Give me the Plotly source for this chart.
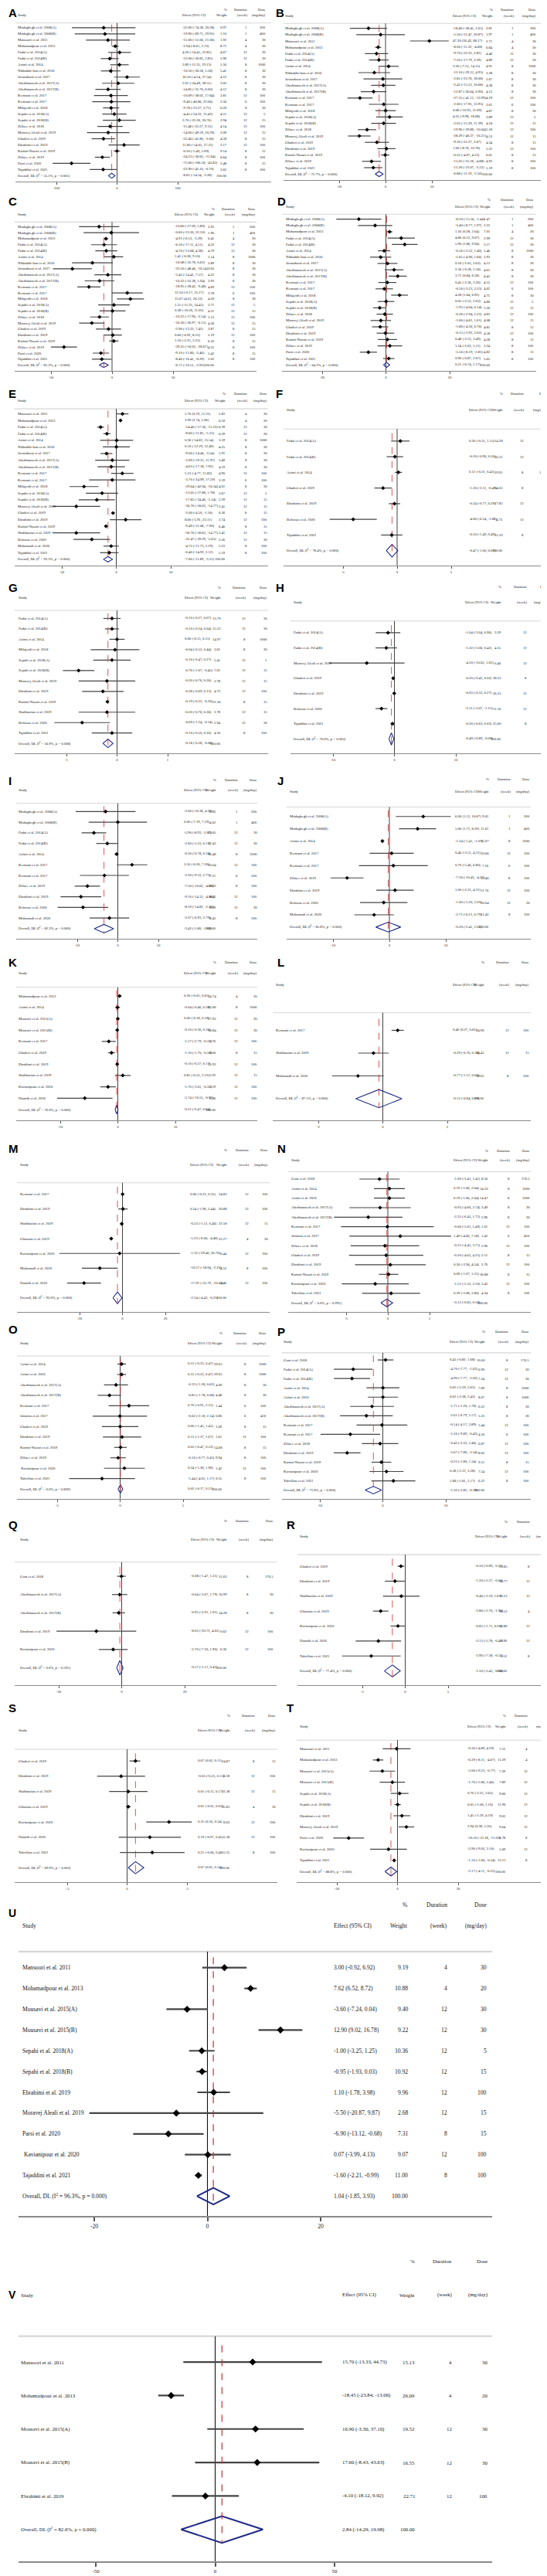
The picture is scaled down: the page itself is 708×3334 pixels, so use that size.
import plotly.graph_objects as go

W, H = 708, 3334
SERIF = "Liberation Serif, Times New Roman, serif"
SANS = "Liberation Sans, Arial, sans-serif"

# ============================ DATA ============================
A_study = ["Modaghegh et al. 2008(A)", "Modaghegh et al. 2008(B)", "Mansoori et al. 2011", "Mohamadpour et al. 2013",
           "Fadai et al. 2014(A)", "Fadai et al. 2014(B)", "Azimi et al. 2014", "Nikbakht-Jam et al. 2016",
           "Javandoost et al. 2017", "Abedimanesh et al. 2017(A)", "Abedimanesh et al. 2017(B)", "Kermani et al. 2017",
           "Kermani et al. 2017", "Milajerdi et al. 2018", "Sepahi et al. 2018(A)", "Sepahi et al. 2018(B)",
           "Ziliaee et al. 2018", "Moravej Aleali et al. 2019", "Ghaderi et al. 2019", "Ebrahimi et al. 2019",
           "Karimi-Nazari et al. 2019", "Ziliaee et al. 2019", "Parsi et al. 2020", "Tajaddini et al. 2021"]
A_eff = [-22.00, -19.90, -15.00, -2.94, 4.20, -12.00, 3.89, -10.50, 16.50, 2.01, -14.85, -10.09, -9.40, -9.78, -4.45, 3.70, -11.48, -14.60, -22.40, 11.60, -0.20, -24.23, -75.00, -22.90]
A_lo = [-74.38, -69.71, -51.06, -8.61, -14.45, -26.85, -11.35, -26.58, -4.54, -24.49, -35.70, -38.02, -40.86, -23.27, -24.32, -23.36, -32.27, -49.59, -41.80, -14.05, -5.49, -36.62, -106.18, -45.10]
A_hi = [30.38, 29.91, 21.06, 2.73, 22.85, 2.85, 19.13, 5.58, 37.54, 28.51, 6.00, 17.84, 22.06, 3.71, 15.42, 30.76, 9.31, 20.39, -3.00, 37.25, 5.09, -11.84, -43.82, -0.70]
A_wt = [0.97, 1.10, 1.92, 8.71, 4.67, 5.96, 5.56, 5.41, 4.12, 3.03, 4.12, 2.81, 2.56, 6.20, 4.51, 2.94, 4.14, 2.09, 4.58, 3.17, 9.14, 6.64, 2.48, 3.62]
A_dur = [1, 1, 4, 4, 12, 12, 8, 8, 8, 8, 8, 12, 6, 8, 12, 12, 12, 12, 8, 12, 8, 8, 8, 8]
A_dose = [200, 400, 30, 20, 30, 30, 1000, 30, 30, 30, 30, 100, 100, 30, 5, 15, 100, 15, 15, 100, 15, 100, 15, 100]
A_overall = [-8.81, -14.34, -3.28]
A_het = ["55.1%", "0.001"]
A_ticks = [-100, 0, 100]

B_study = ["Modaghegh et al. 2008(A)", "Modaghegh et al. 2008(B)", "Mansoori et al. 2011", "Mohamadpour et al. 2013",
           "Fadai et al. 2014(A)", "Fadai et al. 2014(B)", "Azimi et al. 2014", "Nikbakht-Jam et al. 2016",
           "Javandoost et al. 2017", "Abedimanesh et al. 2017(A)", "Abedimanesh et al. 2017(B)", "Kermani et al. 2017",
           "Kermani et al. 2017", "Milajerdi et al. 2018", "Sepahi et al. 2018(A)", "Sepahi et al. 2018(B)",
           "Ziliaee et al. 2018", "Moravej Aleali et al. 2019", "Ghaderi et al. 2019", "Ebrahimi et al. 2019",
           "Karimi Nazari et al. 2019", "Ziliaee et al. 2019", "Tajaddini et al. 2021"]
B_eff = [-18.40, -5.30, 47.30, -8.00, -9.70, -7.20, 3.30, -12.10, -2.85, -2.42, -12.87, -27.55, -2.00, 0.08, 4.35, -2.05, -19.96, -28.29, -9.30, 1.00, -0.32, -15.03, -13.20]
B_lo = [-38.45, -31.47, 26.43, -11.32, -22.22, -17.79, -7.55, -29.15, -23.76, -15.52, -26.64, -41.11, -17.95, -10.93, -9.98, -15.39, -29.88, -40.37, -22.27, -8.76, -4.87, -25.18, -23.07]
B_hi = [1.65, 20.87, 68.17, -4.68, 2.82, 3.39, 14.15, 4.95, 18.06, 10.68, 0.90, -13.99, 13.95, 11.09, 18.68, 11.29, -10.04, -16.21, 3.67, 10.76, 4.23, -4.88, -3.33]
B_wt = [2.81, 1.97, 2.71, 6.84, 4.46, 4.89, 4.91, 3.38, 2.67, 4.38, 4.13, 4.19, 3.61, 4.87, 3.89, 4.24, 5.18, 4.53, 4.34, 5.22, 6.61, 4.93, 5.19]
B_dur = [1, 1, 4, 4, 12, 12, 8, 8, 8, 8, 8, 12, 6, 8, 12, 12, 12, 12, 8, 12, 8, 8, 8]
B_dose = [200, 400, 30, 20, 30, 30, 1000, 30, 30, 30, 30, 100, 100, 30, 5, 15, 100, 15, 15, 100, 15, 100, 100]
B_overall = [-6.88, -11.19, -2.56]
B_het = ["72.7%", "0.000"]
B_ticks = [-50, 0, 50]

C_study = ["Modaghegh et al. 2008(A)", "Modaghegh et al. 2008(B)", "Mohamadpour et al. 2013", "Fadai et al. 2014(A)",
           "Fadai et al. 2014(B)", "Azimi et al. 2014", "Nikbakht-Jam et al. 2016", "Javandoost et al. 2017",
           "Abedimanesh et al. 2017(A)", "Abedimanesh et al. 2017(B)", "Kermani et al. 2017", "Kermani et al. 2017",
           "Milajerdi et al. 2018", "Sepahi et al. 2018(A)", "Sepahi et al. 2018(B)", "Ziliaee et al. 2018",
           "Moravej Aleali et al. 2019", "Ghaderi et al. 2019", "Ebrahimi et al. 2019", "Karimi-Nazari et al. 2019",
           "Ziliaee et al. 2019", "Parsi et al. 2020", "Tajaddini et al. 2021"]
C_eff = [-10.60, -0.60, -4.91, -6.50, -4.70, 1.41, -16.08, -32.50, -3.42, -10.22, -18.95, 12.50, 15.07, 1.55, 0.38, -10.22, -16.56, -2.90, 0.60, 1.50, -39.35, -9.10, -8.40]
C_lo = [-27.09, -23.30, -6.53, -17.11, -13.68, -6.28, -32.78, -48.46, -14.41, -22.38, -28.42, -0.17, 4.01, -11.35, -10.26, -17.90, -26.97, -13.22, -6.92, -2.25, -50.03, -15.80, -16.41]
C_hi = [5.89, 22.10, -3.29, 4.11, 4.28, 9.10, 0.62, -16.54, 7.57, 1.94, -9.48, 25.17, 26.13, 14.45, 11.02, -2.54, -6.15, 7.42, 8.12, 5.25, -28.67, -2.40, -0.39]
C_wt = [2.92, 1.96, 6.45, 4.32, 4.79, 5.14, 2.89, 3.03, 4.22, 3.93, 4.69, 3.78, 4.20, 3.71, 4.31, 5.13, 4.36, 3.87, 5.19, 6.16, 4.35, 5.42, 5.03]
C_dur = [1, 1, 4, 12, 12, 8, 8, 8, 8, 8, 12, 6, 8, 12, 12, 12, 12, 8, 12, 8, 8, 8, 8]
C_dose = [200, 400, 20, 30, 30, 1000, 30, 30, 30, 30, 100, 100, 30, 5, 15, 100, 15, 15, 100, 15, 100, 15, 100]
C_overall = [-6.71, -10.51, -2.92]
C_het = ["81.3%", "0.000"]
C_ticks = [-50, 0, 50]

D_study = list(C_study)
D_eff = [-8.50, -3.40, 1.16, 4.80, 5.90, -0.56, -1.65, 0.50, 2.56, 3.71, 0.45, -0.50, 4.28, 0.05, -1.95, -0.36, -1.60, -1.80, -0.15, 0.48, 1.24, -5.50, 0.90]
D_lo = [-15.56, -8.77, 0.28, 0.53, 1.86, -2.52, -4.96, -2.63, -0.38, 0.84, -2.36, -3.23, 1.64, -2.53, -4.04, -2.94, -4.81, -4.36, -2.92, -2.53, -2.63, -8.19, -0.87]
D_hi = [-1.44, 1.97, 2.04, 9.07, 9.94, 1.40, 1.66, 3.63, 5.50, 6.58, 3.26, 2.23, 6.92, 2.63, 0.14, 2.22, 1.61, 0.76, 2.62, 3.49, 5.11, -2.81, 2.67]
D_wt = [1.47, 2.22, 7.01, 2.99, 3.17, 5.46, 3.93, 4.13, 4.61, 4.45, 4.55, 4.62, 4.75, 4.86, 5.30, 4.83, 4.08, 4.85, 4.58, 4.28, 3.34, 4.82, 5.65]
D_dur = list(C_dur)
D_dose = list(C_dose)
D_overall = [0.21, -0.74, 1.17]
D_het = ["64.2%", "0.000"]
D_ticks = [-20, 0, 20]

E_study = ["Mansoori et al. 2011", "Mohamadpour et al. 2013", "Fadai et al. 2014(A)", "Fadai et al. 2014(B)",
           "Azimi et al. 2014", "Nikbakht-Jam et al. 2016", "Javandoost et al. 2017", "Abedimanesh et al. 2017(A)",
           "Abedimanesh et al. 2017(B)", "Kermani et al. 2017", "Kermani et al. 2017", "Milajerdi et al. 2018",
           "Sepahi et al. 2018(A)", "Sepahi et al. 2018(B)", "Moravej Aleali et al. 2019", "Ghaderi et al. 2019",
           "Ebrahimi et al. 2019", "Karimi-Nazari et al. 2019", "Shahbazian et al. 2019", "Behrouz et al. 2020",
           "Mohamadi et al. 2020", "Tajaddini et al. 2021"]
E_eff = [5.70, 3.90, -14.40, -8.60, 0.36, 0.10, -9.00, -3.69, -4.63, 5.53, -3.70, -29.64, -13.05, -17.85, -36.70, -3.00, 8.60, -9.49, -36.70, -22.47, -4.72, -6.40]
E_lo = [0.19, 2.74, -17.58, -11.85, -14.82, -12.29, -14.46, -19.35, -17.18, -4.77, -24.99, -42.94, -27.88, -34.46, -58.63, -4.50, -5.91, -11.08, -58.63, -39.29, -11.73, -14.92]
E_hi = [11.21, 5.06, -11.22, -5.35, 15.54, 12.49, -3.54, 11.97, 7.92, 15.83, 17.59, -16.34, 1.78, -1.24, -14.77, -1.50, 23.11, -7.90, -14.77, -5.65, 2.29, 2.12]
E_wt = [5.83, 6.59, 6.39, 6.39, 3.59, 4.25, 5.91, 3.49, 4.19, 4.90, 2.59, 4.01, 3.67, 3.39, 2.41, 6.26, 3.74, 6.46, 2.41, 3.26, 5.23, 5.19]
E_dur = [4, 4, 12, 12, 8, 8, 8, 8, 8, 12, 6, 8, 12, 12, 12, 8, 12, 8, 12, 12, 8, 8]
E_dose = [30, 20, 30, 30, 1000, 30, 30, 30, 30, 100, 100, 30, 5, 15, 15, 15, 100, 15, 15, 30, 100, 100]
E_overall = [-7.60, -11.89, -3.31]
E_het = ["93.3%", "0.000"]
E_ticks = [-50, 0, 50]

F_study = ["Fadai et al. 2014(A)", "Fadai et al. 2014(B)", "Azimi et al. 2014", "Ghaderi et al. 2019",
           "Ebrahimi et al. 2019", "Behrouz et al. 2020", "Tajaddini et al. 2021"]
F_eff = [0.30, -0.20, 0.12, -1.30, -0.24, -4.06, -0.50]
F_lo = [-0.55, -0.96, -0.21, -2.11, -0.77, -6.24, -1.49]
F_hi = [1.15, 0.56, 0.45, -0.49, 0.29, -1.88, 0.49]
F_wt = [14.28, 16.31, 19.91, 14.63, 17.83, 4.73, 12.59]
F_dur = [12, 12, 8, 8, 12, 12, 8]
F_dose = [30, 30, 1000, 15, 100, 30, 100]
F_overall = [-0.47, -1.00, 0.07]
F_het = ["78.4%", "0.000"]
F_ticks = [-5, 0, 5]

G_study = ["Fadai et al. 2014(A)", "Fadai et al. 2014(B)", "Azimi et al. 2014", "Milajerdi et al. 2018",
           "Sepahi et al. 2018(A)", "Sepahi et al. 2018(B)", "Moravej Aleali et al. 2019", "Ebrahimi et al. 2019",
           "Karimi-Nazari et al. 2019", "Shahbazian et al. 2019", "Behrouz et al. 2020", "Tajaddini et al. 2021"]
G_eff = [-0.10, -0.10, 0.00, -0.04, -0.10, -0.76, -0.20, -0.28, -0.19, -0.20, -0.69, -0.10]
G_lo = [-0.27, -0.24, -0.15, -0.52, -0.47, -1.07, -0.76, -0.69, -0.22, -0.76, -1.24, -0.50]
G_hi = [0.07, 0.04, 0.15, 0.44, 0.27, -0.45, 0.36, 0.13, -0.16, 0.36, -0.14, 0.30]
G_wt = [13.79, 15.52, 14.97, 3.61, 5.41, 7.61, 2.78, 4.73, 21.36, 2.78, 2.94, 4.50]
G_dur = [12, 12, 8, 8, 12, 12, 12, 12, 8, 12, 12, 8]
G_dose = [30, 30, 1000, 30, 5, 15, 15, 100, 15, 15, 30, 100]
G_overall = [-0.18, -0.28, -0.08]
G_het = ["56.9%", "0.008"]
G_ticks = [-1, 0, 1]

H_study = ["Fadai et al. 2014(A)", "Fadai et al. 2014(B)", "Moravej Aleali et al. 2019", "Ghaderi et al. 2019",
           "Ebrahimi et al. 2019", "Behrouz et al. 2020", "Tajaddini et al. 2021"]
H_eff = [-1.04, -1.32, -4.50, -0.20, -0.03, -2.11, -0.30]
H_lo = [-3.04, -3.06, -10.65, -0.42, -0.33, -3.07, -0.63]
H_hi = [0.96, 0.42, 1.65, 0.02, 0.27, -1.15, 0.03]
H_wt = [3.59, 4.55, 0.40, 28.35, 26.35, 11.16, 25.60]
H_dur = [12, 12, 12, 8, 12, 12, 8]
H_dose = [30, 30, 15, 15, 100, 30, 100]
H_overall = [-0.49, -0.89, -0.09]
H_het = ["70.0%", "0.002"]
H_ticks = [-10, 0, 10]

I_study = ["Modaghegh et al. 2008(A)", "Modaghegh et al. 2008(B)", "Fadai et al. 2014(A)", "Fadai et al. 2014(B)",
           "Azimi et al. 2014", "Kermani et al. 2017", "Kermani et al. 2017", "Ziliaee et al. 2019",
           "Ebrahimi et al. 2019", "Behrouz et al. 2020", "Mohamadi et al. 2020"]
I_eff = [-3.00, 0.00, -5.90, -2.60, -0.30, 3.50, -3.30, -7.50, -9.10, -8.59, -2.07]
I_lo = [-10.38, -7.19, -8.93, -5.33, -0.78, -0.26, -9.33, -10.62, -14.12, -14.82, -6.93]
I_hi = [4.38, 7.19, -2.87, 0.13, 0.18, 7.26, 2.73, -4.38, -4.08, -2.36, 2.79]
I_wt = [3.93, 4.02, 11.05, 12.42, 16.48, 10.04, 7.21, 10.92, 8.46, 6.99, 8.43]
I_dur = [1, 1, 12, 12, 8, 12, 6, 8, 12, 12, 8]
I_dose = [200, 400, 30, 30, 1000, 100, 100, 100, 100, 30, 100]
I_overall = [-3.42, -5.80, -1.03]
I_het = ["82.3%", "0.000"]
I_ticks = [-10, 0, 10]

J_study = ["Modaghegh et al. 2008(A)", "Modaghegh et al. 2008(B)", "Azimi et al. 2014", "Kermani et al. 2017",
           "Kermani et al. 2017", "Ziliaee et al. 2019", "Ebrahimi et al. 2019", "Behrouz et al. 2020",
           "Mohamadi et al. 2020"]
J_eff = [6.00, 5.00, -1.24, 0.40, 0.70, -7.50, 1.00, -1.00, -2.71]
J_lo = [1.13, 1.71, -1.41, -3.51, -5.40, -10.43, -2.31, -5.20, -6.21]
J_hi = [10.87, 8.29, -1.07, 4.31, 6.80, -4.57, 4.31, 3.20, 0.79]
J_wt = [9.03, 11.61, 15.07, 10.66, 7.16, 12.46, 11.76, 10.04, 11.43]
J_dur = [1, 1, 8, 12, 6, 8, 12, 12, 8]
J_dose = [200, 400, 1000, 100, 100, 100, 100, 30, 100]
J_overall = [-0.20, -2.41, 2.01]
J_het = ["85.8%", "0.000"]
J_ticks = [-10, 0, 10]

K_study = ["Mohamadpour et al. 2013", "Azimi et al. 2014", "Mousavi et al. 2015(A)", "Mousavi et al. 2015(B)",
           "Kermani et al. 2017", "Ghaderi et al. 2019", "Ebrahimi et al. 2019", "Shahbazian et al. 2019",
           "Kavianipour et al. 2020", "Hamidi et al. 2020"]
K_eff = [0.30, -0.04, 0.00, -0.10, -1.57, -1.10, -0.10, 0.85, -1.70, -5.74]
K_lo = [-0.05, -0.46, -0.18, -0.36, -2.79, -1.70, -0.37, -0.52, -3.05, -10.55]
K_hi = [0.65, 0.38, 0.18, 0.16, -0.35, -0.50, 0.17, 2.22, -0.35, -0.93]
K_wt = [14.74, 15.06, 17.92, 16.84, 3.76, 9.00, 15.92, 2.93, 3.19, 0.56]
K_dur = [4, 8, 12, 12, 12, 8, 12, 12, 12, 12]
K_dose = [20, 1000, 30, 30, 100, 15, 100, 15, 100, 100]
K_overall = [-0.21, -0.47, 0.04]
K_het = ["76.0%", "0.000"]
K_ticks = [-10, 0, 10]

L_study = ["Kermani et al. 2017", "Shahbazian et al. 2019", "Mohamadi et al. 2020"]
L_eff = [0.46, -0.29, -0.77]
L_lo = [0.27, -0.76, -1.57]
L_hi = [0.65, 0.18, 0.03]
L_wt = [34.90, 34.45, 30.65]
L_dur = [12, 12, 8]
L_dose = [100, 15, 100]
L_overall = [-0.12, -0.84, 0.59]
L_het = ["87.1%", "0.000"]
L_ticks = [-2, 0, 2]

M_study = ["Kermani et al. 2017", "Ebrahimi et al. 2019", "Shahbazian et al. 2019", "Ghiasian et al. 2019",
           "Kavianipour et al. 2020", "Mohamadi et al. 2020", "Hamidi et al. 2020"]
M_eff = [0.06, 0.24, -0.33, -5.23, -1.32, -10.57, -17.91]
M_lo = [-0.23, -1.96, -1.12, -6.06, -29.40, -18.94, -25.79]
M_hi = [0.35, 2.44, 0.46, -4.40, 26.76, -2.20, -10.03]
M_wt = [24.83, 20.88, 22.58, 22.27, 0.44, 4.52, 4.46]
M_dur = [12, 12, 12, 4, 12, 8, 12]
M_dose = [100, 100, 15, 30, 100, 100, 100]
M_overall = [-2.34, -4.43, -0.25]
M_het = ["93.0%", "0.000"]
M_ticks = [-20, 0, 20]

N_study = ["Gout et al. 2018", "Azimi et al. 2014", "Azimi et al. 2016", "Abedimanesh et al. 2017(A)",
           "Abedimanesh et al. 2017(B)", "Kermani et al. 2017", "Jafarnia et al. 2017", "Ziliaee et al. 2018",
           "Ghaderi et al. 2019", "Ebrahimi et al. 2019", "Karimi-Nazari et al. 2019", "Kavianipour et al. 2020",
           "Tahvilian et al. 2021"]
N_eff = [-1.00, 0.19, 0.19, -0.93, -2.35, -0.06, 1.49, -0.35, -0.20, 0.30, 0.09, -1.51, 0.39]
N_lo = [-3.41, -1.66, -1.66, -4.60, -6.45, -5.61, -4.60, -4.45, -4.65, -3.94, -1.07, -5.52, -3.08]
N_hi = [1.41, 2.04, 2.04, 2.74, 1.75, 5.49, 7.58, 3.75, 4.25, 4.54, 1.25, 2.50, 3.86]
N_wt = [8.56, 14.50, 14.47, 3.49, 2.96, 1.61, 1.43, 2.96, 2.51, 2.76, 36.88, 3.43, 4.34]
N_dur = [8, 8, 8, 8, 8, 12, 6, 12, 8, 12, 8, 12, 8]
N_dose = [176.5, 1000, 1000, 30, 30, 100, 450, 100, 15, 100, 15, 100, 100]
N_overall = [-0.12, -0.83, 0.58]
N_het = ["0.0%", "0.995"]
N_ticks = [-5, 0, 5]

O_study = ["Azimi et al. 2014", "Azimi et al. 2016", "Abedimanesh et al. 2017(A)", "Abedimanesh et al. 2017(B)",
           "Kermani et al. 2017", "Jafarnia et al. 2017", "Ghaderi et al. 2019", "Ebrahimi et al. 2019",
           "Karimi-Nazari et al. 2019", "Ziliaee et al. 2019", " Kavianipour et al. 2020", "Tahvilian et al. 2021"]
O_eff = [0.12, 0.12, -0.33, -0.85, 0.70, -0.02, 0.00, 0.15, 0.03, -0.16, 0.34, -1.44]
O_lo = [-0.23, -0.23, -1.28, -1.78, -0.91, -2.18, -1.45, -1.37, -0.47, -0.77, -1.28, -4.05]
O_hi = [0.47, 0.47, 0.62, 0.08, 2.31, 2.14, 1.45, 1.67, 0.53, 0.45, 1.96, 1.17]
O_wt = [29.65, 29.65, 4.09, 4.48, 1.44, 0.80, 1.69, 1.61, 14.68, 9.94, 1.42, 0.55]
O_dur = [8, 8, 8, 8, 6, 6, 8, 12, 8, 8, 12, 8]
O_dose = [1000, 1000, 30, 30, 100, 450, 15, 100, 15, 100, 100, 100]
O_overall = [0.02, -0.17, 0.21]
O_het = ["0.0%", "0.809"]
O_ticks = [-5, 0, 5]

P_study = ["Gout et al. 2018", "Fadai et al. 2014(A)", "Fadai et al. 2014(B)", "Azimi et al. 2014",
           "Azimi et al. 2016", "Abedimanesh et al. 2017(A)", "Abedimanesh et al. 2017(B)", "Kermani et al. 2017",
           "Kermani et al. 2017", "Ziliaee et al. 2018", "Ebrahimi et al. 2019", "Karimi-Nazari et al. 2019",
           "Kavianipour et al. 2020", "Tahvilian et al. 2021"]
P_eff = [0.43, -4.70, -4.90, 0.02, 0.02, -1.71, -2.61, -0.14, -5.16, -0.43, -5.67, -0.23, 0.58, 1.68]
P_lo = [-0.82, -7.77, -7.77, -2.59, -2.38, -5.20, -6.79, -4.17, -9.89, -3.32, -7.80, -1.80, -2.12, -1.81]
P_hi = [1.68, -1.63, -2.03, 2.63, 2.42, 1.78, 1.57, 3.89, -0.43, 2.46, -3.54, 1.34, 3.28, 5.17]
P_wt = [10.00, 6.90, 7.24, 7.69, 8.07, 6.22, 5.23, 5.44, 4.50, 6.87, 8.03, 9.51, 7.54, 6.22]
P_dur = [8, 12, 12, 8, 8, 8, 8, 12, 6, 12, 12, 8, 12, 8]
P_dose = [176.5, 30, 30, 1000, 1000, 30, 30, 100, 100, 100, 100, 15, 100, 100]
P_overall = [-1.50, -2.82, -0.18]
P_het = ["71.6%", "0.000"]
P_ticks = [-10, 0, 10]

Q_study = ["Gout et al. 2018", "Abedimanesh et al. 2017(A)", "Abedimanesh et al. 2017(B)", "Ebrahimi et al. 2019",
           "Kavianipour et al. 2020"]
Q_eff = [-0.08, -0.64, -0.95, -8.05, -2.70]
Q_lo = [-1.47, -3.07, -2.91, -20.72, -7.30]
Q_hi = [1.31, 1.79, 1.01, 4.62, 1.90]
Q_wt = [51.63, 16.99, 24.28, 0.62, 6.36]
Q_dur = [8, 8, 8, 12, 12]
Q_dose = [176.5, 30, 30, 100, 100]
Q_overall = [-0.57, -1.57, 0.43]
Q_het = ["0.0%", "0.595"]
Q_ticks = [-20, 0, 20]

R_study = ["Ghaderi et al. 2019", "Ebrahimi et al. 2019", "Shahbazian et al. 2019", "Ghiasian et al. 2019",
           "Kavianipour et al. 2020", "Hamidi et al. 2020", "Tahvilian et al. 2021"]
R_eff = [-0.50, -1.20, -0.46, -2.86, -0.85, -3.13, -3.96]
R_lo = [-0.89, -2.37, -2.59, -3.76, -1.71, -5.78, -7.38]
R_hi = [-0.11, -0.03, 1.67, -1.96, 0.01, -0.48, -0.53]
R_wt = [21.85, 16.77, 10.52, 18.52, 18.86, 7.96, 5.52]
R_dur = [8, 12, 12, 4, 12, 12, 8]
R_dose = [15, 100, 15, 30, 100, 100, 100]
R_overall = [-1.50, -2.43, -0.58]
R_het = ["77.4%", "0.000"]
R_ticks = [-5, 0, 5]

S_study = ["Ghaderi et al. 2019", "Ebrahimi et al. 2019", "Shahbazian et al. 2019", "Ghiasian et al. 2019",
           "Kavianipour et al. 2020", "Hamidi et al. 2020", "Tahvilian et al. 2021"]
S_eff = [0.07, -0.05, 0.01, 0.01, 0.35, 0.19, 0.21]
S_lo = [0.02, -0.25, -0.15, -0.01, 0.16, -0.07, -0.06]
S_hi = [0.11, 0.15, 0.17, 0.03, 0.54, 0.45, 0.48]
S_wt = [24.87, 8.18, 11.38, 35.81, 8.63, 5.58, 5.55]
S_dur = [8, 12, 12, 4, 12, 12, 8]
S_dose = [15, 100, 15, 30, 100, 100, 100]
S_overall = [0.07, 0.01, 0.14]
S_het = ["69.9%", "0.003"]
S_ticks = [-0.5, 0, 0.5]
S_ticktext = ["-.5", "0", ".5"]

T_study = ["Mansoori et al. 2011", "Mohamadpour et al. 2013", "Mousavi et al. 2015(A)", "Mousavi et al. 2015(B)",
           "Sepahi et al. 2018(A)", "Sepahi et al. 2018(B)", "Ebrahimi et al. 2019", "Moravej Aleali et al. 2019",
           "Parsi et al. 2020", "Kavianipour et al. 2020", "Tajaddini et al. 2021"]
T_eff = [-0.30, -6.39, -5.00, -1.70, 0.70, 0.05, 1.45, 2.94, -16.10, -2.96, -1.10]
T_lo = [-4.89, -8.11, -9.23, -5.86, -2.25, -1.00, -1.29, 0.38, -21.18, -9.02, -1.66]
T_hi = [4.29, -4.67, -0.77, 2.46, 3.65, 1.10, 4.19, 5.50, -11.02, 3.10, -0.54]
T_wt = [7.52, 11.29, 7.39, 7.89, 9.66, 11.96, 9.03, 9.64, 6.78, 5.69, 13.15]
T_dur = [4, 4, 12, 12, 12, 12, 12, 12, 8, 12, 8]
T_dose = [30, 20, 30, 30, 5, 15, 100, 15, 15, 100, 100]
T_overall = [-2.17, -4.11, -0.23]
T_het = ["88.8%", "0.000"]
T_ticks = [-20, 0, 20]

U_study = ["Mansoori et al. 2011", "Mohamadpour et al. 2013", "Mousavi et al. 2015(A)", "Mousavi et al. 2015(B)",
           "Sepahi et al. 2018(A)", "Sepahi et al. 2018(B)", "Ebrahimi et al. 2019", "Moravej Aleali et al. 2019",
           "Parsi et al. 2020", " Kavianipour et al. 2020", "Tajaddini et al. 2021"]
U_eff = [3.00, 7.62, -3.60, 12.90, -1.00, -0.95, 1.10, -5.50, -6.90, 0.07, -1.60]
U_lo = [-0.92, 6.52, -7.24, 9.02, -3.25, -1.93, -1.78, -20.87, -13.12, -3.99, -2.21]
U_hi = [6.92, 8.72, 0.04, 16.78, 1.25, 0.03, 3.98, 9.87, -0.68, 4.13, -0.99]
U_wt = [9.19, 10.88, 9.40, 9.22, 10.36, 10.92, 9.96, 2.68, 7.31, 9.07, 11.00]
U_dur = [4, 4, 12, 12, 12, 12, 12, 12, 8, 12, 8]
U_dose = [30, 20, 30, 30, 5, 15, 100, 15, 15, 100, 100]
U_overall = [1.04, -1.85, 3.93]
U_het = ["96.3%", "0.000"]
U_ticks = [-20, 0, 20]

V_study = ["Mansoori et al. 2011", "Mohamadpour et al. 2013", "Mousavi et al. 2015(A)", "Mousavi et al. 2015(B)",
           "Ebrahimi et al. 2019"]
V_eff = [15.70, -18.45, 16.90, 17.60, -4.10]
V_lo = [-13.33, -23.84, -3.30, -8.43, -18.12]
V_hi = [44.73, -13.06, 37.10, 43.63, 9.92]
V_wt = [15.13, 26.09, 19.52, 16.55, 22.71]
V_dur = [4, 4, 12, 12, 12]
V_dose = [30, 20, 30, 30, 100]
V_overall = [2.84, -14.29, 19.98]
V_het = ["82.6%", "0.000"]
V_ticks = [-50, 0, 50]

KEYS = list("ABCDEFGHIJKLMNOPQRSTUV")
_g = globals()
DATA = {}
for k in KEYS:
    DATA[k] = dict(study=_g[k + "_study"], eff=_g[k + "_eff"], lo=_g[k + "_lo"], hi=_g[k + "_hi"],
                   wt=_g[k + "_wt"], dur=_g[k + "_dur"], dose=_g[k + "_dose"],
                   overall=_g[k + "_overall"], het=_g[k + "_het"], ticks=_g[k + "_ticks"],
                   ticktext=_g.get(k + "_ticktext"))
    n = len(DATA[k]["study"])
    for f in ("eff", "lo", "hi", "wt", "dur", "dose"):
        assert len(DATA[k][f]) == n, (k, f)

# ============================ GEOMETRY (pixels) ============================
# lx/ly: panel letter; hy: first header row; ay: x-axis line; ax: axis span;
# tk: pixel positions of the outer ticks; cols: study, effect (left), weight, duration, dose (right edges)
GEO = {
    "A": dict(lx=1, ly=9, hy=4, ay=227, ax=(12, 343), tk=(65, 222), cols=(13, 226, 288, 314, 338)),
    "B": dict(lx=347, ly=9, hy=4, ay=225, ax=(359, 697), tk=(431, 551), cols=(359, 576, 632, 659, 688)),
    "C": dict(lx=1, ly=253, hy=262, ay=472, ax=(11, 324), tk=(58, 216), cols=(13, 216, 272, 298, 325)),
    "D": dict(lx=349, ly=253, hy=251, ay=472, ax=(357, 686), tk=(409, 574), cols=(360, 579, 629, 659, 685)),
    "E": dict(lx=1, ly=502, hy=502, ay=724, ax=(11, 339), tk=(72, 213), cols=(13, 229, 286, 314, 340)),
    "F": dict(lx=347, ly=502, hy=502, ay=724, ax=(359, 704), tk=(436, 576), cols=(361, 597, 645, 672, 702)),
    "G": dict(lx=1, ly=752, hy=752, ay=967, ax=(11, 339), tk=(78, 209), cols=(14, 229, 280, 312, 340)),
    "H": dict(lx=347, ly=752, hy=752, ay=967, ax=(368, 704), tk=(423, 582), cols=(370, 592, 643, 676, 703)),
    "I": dict(lx=1, ly=1003, hy=1001, ay=1207, ax=(13, 325), tk=(92, 197), cols=(14, 228, 274, 302, 327)),
    "J": dict(lx=349, ly=1003, hy=1001, ay=1207, ax=(363, 679), tk=(423, 569), cols=(365, 579, 627, 655, 680)),
    "K": dict(lx=1, ly=1237, hy=1237, ay=1442, ax=(13, 325), tk=(70, 219), cols=(14, 228, 274, 302, 327)),
    "L": dict(lx=349, ly=1237, hy=1237, ay=1442, ax=(345, 679), tk=(404, 571), cols=(347, 576, 621, 653, 679)),
    "M": dict(lx=1, ly=1478, hy=1480, ay=1690, ax=(14, 341), tk=(95, 206), cols=(16, 236, 288, 316, 341)),
    "N": dict(lx=349, ly=1478, hy=1481, ay=1690, ax=(365, 679), tk=(440, 548), cols=(367, 577, 626, 654, 680)),
    "O": dict(lx=1, ly=1713, hy=1717, ay=1932, ax=(14, 341), tk=(66, 229), cols=(16, 233, 282, 313, 339)),
    "P": dict(lx=349, ly=1715, hy=1716, ay=1932, ax=(357, 679), tk=(406, 569), cols=(357, 572, 622, 652, 679)),
    "Q": dict(lx=1, ly=1965, hy=1961, ay=2173, ax=(11, 350), tk=(68, 231), cols=(16, 237, 288, 316, 348)),
    "R": dict(lx=361, ly=1965, hy=1961, ay=2173, ax=(377, 708), tk=(461, 572), cols=(378, 605, 651, 680, 706)),
    "S": dict(lx=1, ly=2202, hy=2212, ay=2428, ax=(11, 351), tk=(79, 234), cols=(14, 246, 292, 324, 351)),
    "T": dict(lx=361, ly=2202, hy=2212, ay=2428, ax=(376, 708), tk=(428, 585), cols=(378, 595, 649, 677, 706)),
    "U": dict(lx=1, ly=2468, hy=2458, ay=2860, ax=(16, 629), tk=(114, 407), cols=(19, 422, 522, 573, 624)),
    "V": dict(lx=1, ly=2962, hy=2919, ay=3307, ax=(16, 629), tk=(116, 425), cols=(17, 433, 531, 579, 625)),
}
FONT = {"U": 7.6, "V": 6.8}

fig = go.Figure()
ann = []
axes = {}

for n, key in enumerate(KEYS, start=1):
    d, g = DATA[key], GEO[key]
    big = key in ("U", "V")
    fs = FONT.get(key, 4.7)
    N = len(d["study"])
    hy, ay = g["hy"], g["ay"]
    p = (ay - hy) / (N + 3.95)
    ytop_px = max(0.0, hy - 0.6 * p)
    r_top = -3 - (hy - ytop_px) / p
    r_bot = N + 0.95

    ticks = d["ticks"]
    pL, pR = g["tk"]
    v = ticks[-1]
    s = (pR - pL) / (2 * v)
    p0 = (pL + pR) / 2
    axL, axR = g["ax"]
    xr = [(axL - p0) / s, (axR - p0) / s]

    xs = "x" if n == 1 else f"x{n}"
    ys = "y" if n == 1 else f"y{n}"
    xk = "xaxis" if n == 1 else f"xaxis{n}"
    yk = "yaxis" if n == 1 else f"yaxis{n}"

    ticktext = d["ticktext"] or [f"{t:g}" for t in ticks]
    axes[xk] = dict(domain=[axL / W, axR / W], range=xr, anchor=ys, showline=True,
                    linecolor="#8a8a8a", linewidth=2.0 if big else 1.3, ticks="outside",
                    ticklen=5 if big else 3, tickwidth=1.6 if big else 1, tickcolor="#555555",
                    tickvals=ticks, ticktext=ticktext,
                    tickfont=dict(family=SERIF, size=fs, color="#222222"),
                    showgrid=False, zeroline=False, fixedrange=True)
    axes[yk] = dict(domain=[1 - ay / H, 1 - ytop_px / H], range=[r_bot, r_top], anchor=xs,
                    visible=False, showgrid=False, zeroline=False, fixedrange=True)

    rows = list(range(N))
    oe, ol, oh = d["overall"]
    common = dict(xaxis=xs, yaxis=ys, hoverinfo="skip", showlegend=False)

    # header rule
    fig.add_trace(go.Scatter(x=xr, y=[-0.77, -0.77], mode="lines",
                             line=dict(color="#d6d6d6", width=2.2 if big else 1.1), **common))
    # null line
    fig.add_trace(go.Scatter(x=[0, 0], y=[-0.77, r_bot], mode="lines",
                             line=dict(color="#111111", width=1.1 if big else 0.8), **common))
    # confidence intervals
    cx, cy = [], []
    for lo, hi, r in zip(d["lo"], d["hi"], rows):
        cx += [lo, hi, None]
        cy += [r, r, None]
    fig.add_trace(go.Scatter(x=cx, y=cy, mode="lines",
                             line=dict(color="#454545", width=2.2 if big else 1.2), **common))
    # pooled diamond
    fig.add_trace(go.Scatter(x=[ol, oe, oh, oe, ol], y=[N, N - 0.4, N, N + 0.4, N], mode="lines",
                             line=dict(color="#1f2a86", width=2.0 if big else 1.1), **common))
    # pooled estimate line
    fig.add_trace(go.Scatter(x=[oe, oe], y=[-0.5, N + 0.4], mode="lines",
                             line=dict(color="#d42a2a", width=1.2 if big else 0.8, dash="dash"), **common))
    # point estimates
    fig.add_trace(go.Scatter(x=d["eff"], y=rows, mode="markers",
                             marker=dict(symbol="diamond", size=7 if big else 4, color="#000000"), **common))

    # ---------------- texts ----------------
    cS, cE, cW, cD, cO = g["cols"]

    def txt(xpx, r, t, anchor, size=fs):
        ann.append(dict(x=xpx / W, xref="paper", y=r, yref=ys, text=t, showarrow=False,
                        xanchor=anchor, yanchor="middle", font=dict(family=SERIF, size=size, color="#151515")))

    ann.append(dict(x=g["lx"] / W, xref="paper", y=1 - g["ly"] / H, yref="paper", text=f"<b>{key}</b>",
                    showarrow=False, xanchor="left", yanchor="middle",
                    font=dict(family=SANS, size=14 if big else 15, color="#000000")))
    txt(cW, -3, "%", "right")
    txt(cD, -3, "Duration", "right")
    txt(cO, -3, "Dose", "right")
    txt(cS, -2, "Study", "left")
    txt(cE, -2, "Effect (95% CI)", "left")
    txt(cW, -2, "Weight", "right")
    txt(cD, -2, "(week)", "right")
    txt(cO, -2, "(mg/day)", "right")
    for r in rows:
        txt(cS, r, d["study"][r], "left")
        txt(cE, r, f"{d['eff'][r]:.2f} ({d['lo'][r]:.2f}, {d['hi'][r]:.2f})", "left")
        txt(cW, r, f"{d['wt'][r]:.2f}", "right")
        txt(cD, r, f"{d['dur'][r]:g}", "right")
        txt(cO, r, f"{d['dose'][r]:g}", "right")
    i2, pv = d["het"]
    txt(cS, N, f"Overall, DL (I<sup>2</sup> = {i2}, p = {pv})", "left")
    txt(cE, N, f"{oe:.2f} ({ol:.2f}, {oh:.2f})", "left")
    txt(cW, N, "100.00", "right")

fig.update_layout(width=W, height=H, margin=dict(l=0, r=0, t=0, b=0),
                  paper_bgcolor="white", plot_bgcolor="white", showlegend=False,
                  annotations=ann, **axes)
fig.write_html("out.html")
